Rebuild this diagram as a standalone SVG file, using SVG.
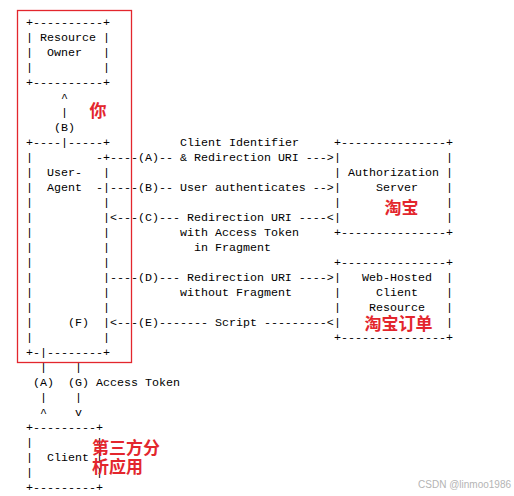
<svg xmlns="http://www.w3.org/2000/svg" width="514" height="496" viewBox="0 0 514 496" xml:space="preserve">
<style>
.t { font-family: "Liberation Mono", "DejaVu Sans Mono", monospace; font-size: 11.667px; fill: #000; white-space: pre; }
.r { font-family: "Noto Sans CJK SC", sans-serif; font-size: 17px; font-weight: 700; fill: #e3262d; }
.wm { font-family: "Liberation Sans", Arial, sans-serif; font-size: 10px; fill: #b4b4b4; }
</style>
<rect width="514" height="496" fill="#fff"/>
<g id="resource-owner">
<text class="t" xml:space="preserve" x="26" y="26">+----------+</text>
<text class="t" xml:space="preserve" x="26" y="41">| Resource |</text>
<text class="t" xml:space="preserve" x="26" y="56">|  Owner   |</text>
<text class="t" xml:space="preserve" x="26" y="71">|          |</text>
<text class="t" xml:space="preserve" x="26" y="86">+----------+</text>
</g>
<g id="user-agent">
<text class="t" xml:space="preserve" x="26" y="146">+----|-----+</text>
<text class="t" xml:space="preserve" x="26" y="161">|         -+</text>
<text class="t" xml:space="preserve" x="26" y="176">|  User-   |</text>
<text class="t" xml:space="preserve" x="26" y="191">|  Agent  -|</text>
<text class="t" xml:space="preserve" x="26" y="206">|          |</text>
<text class="t" xml:space="preserve" x="26" y="221">|          |</text>
<text class="t" xml:space="preserve" x="26" y="236">|          |</text>
<text class="t" xml:space="preserve" x="26" y="251">|          |</text>
<text class="t" xml:space="preserve" x="26" y="266">|          |</text>
<text class="t" xml:space="preserve" x="26" y="281">|          |</text>
<text class="t" xml:space="preserve" x="26" y="296">|          |</text>
<text class="t" xml:space="preserve" x="26" y="311">|          |</text>
<text class="t" xml:space="preserve" x="26" y="326">|     (F)  |</text>
<text class="t" xml:space="preserve" x="26" y="341">|          |</text>
<text class="t" xml:space="preserve" x="26" y="356">+-|--------+</text>
</g>
<g id="authorization-server">
<text class="t" xml:space="preserve" x="334" y="146">+---------------+</text>
<text class="t" xml:space="preserve" x="334" y="161">|               |</text>
<text class="t" xml:space="preserve" x="334" y="176">| Authorization |</text>
<text class="t" xml:space="preserve" x="334" y="191">|     Server    |</text>
<text class="t" x="334" y="206">|</text><text class="t" x="446" y="206">|</text>
<text class="t" x="334" y="221">|</text><text class="t" x="446" y="221">|</text>
<text class="t" xml:space="preserve" x="334" y="236">+---------------+</text>
</g>
<g id="web-hosted-client-resource">
<text class="t" xml:space="preserve" x="334" y="266">+---------------+</text>
<text class="t" xml:space="preserve" x="334" y="281">|   Web-Hosted  |</text>
<text class="t" xml:space="preserve" x="334" y="296">|     Client    |</text>
<text class="t" xml:space="preserve" x="334" y="311">|    Resource   |</text>
<text class="t" x="334" y="326">|</text><text class="t" x="446" y="326">|</text>
<text class="t" xml:space="preserve" x="334" y="341">+---------------+</text>
</g>
<g id="client">
<text class="t" xml:space="preserve" x="26" y="431">+---------+</text>
<text class="t" x="26" y="446">|</text><text class="t" x="96" y="446">|</text>
<text class="t" xml:space="preserve" x="26" y="461">|  Client </text><text class="t" x="96" y="461">|</text>
<text class="t" x="26" y="476">|</text><text class="t" x="96" y="476">|</text>
<text class="t" xml:space="preserve" x="26" y="491">+---------+</text>
</g>
<g id="connectors">
<text class="t" x="61" y="101">^</text>
<text class="t" x="61" y="116">|</text>
<text class="t" x="54" y="131">(B)</text>
<text class="t" xml:space="preserve" x="180" y="146">Client Identifier</text>
<text class="t" xml:space="preserve" x="110" y="161">----(A)-- &amp; Redirection URI ---&gt;</text>
<text class="t" xml:space="preserve" x="110" y="191">----(B)-- User authenticates --&gt;</text>
<text class="t" xml:space="preserve" x="110" y="221">&lt;---(C)--- Redirection URI ----&lt;</text>
<text class="t" xml:space="preserve" x="180" y="236">with Access Token</text>
<text class="t" xml:space="preserve" x="194" y="251">in Fragment</text>
<text class="t" xml:space="preserve" x="110" y="281">----(D)--- Redirection URI ----&gt;</text>
<text class="t" xml:space="preserve" x="180" y="296">without Fragment</text>
<text class="t" xml:space="preserve" x="110" y="326">&lt;---(E)------- Script ---------&lt;</text>
<text class="t" xml:space="preserve" x="26" y="371">  |    |</text>
<text class="t" xml:space="preserve" x="26" y="386"> (A)  (G) Access Token</text>
<text class="t" xml:space="preserve" x="26" y="401">  |    |</text>
<text class="t" xml:space="preserve" x="26" y="416">  ^    v</text>
</g>
<g id="annotations">
<rect x="17.5" y="10.5" width="114" height="352" fill="none" stroke="#e3262d" stroke-width="1.3"/>
<text class="r" x="89.5" y="116.5">你</text>
<text class="r" x="384.5" y="213.5">淘宝</text>
<text class="r" x="364.5" y="330">淘宝订单</text>
<text class="r" x="92" y="453.5">第三方分</text>
<text class="r" x="92" y="473">析应用</text>
<text class="wm" x="511" y="488" text-anchor="end">CSDN @linmoo1986</text>
</g>
</svg>
